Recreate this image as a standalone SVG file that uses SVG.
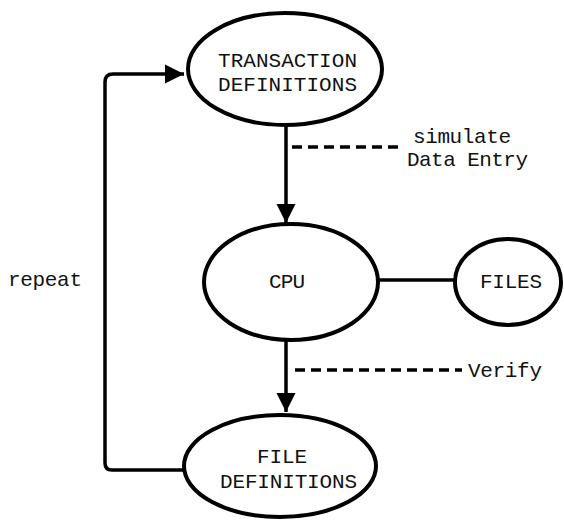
<svg xmlns="http://www.w3.org/2000/svg" width="564" height="520" viewBox="0 0 564 520">
<style>
.node{fill:none;stroke:#000;stroke-width:4}
.lbl{font-family:"Liberation Mono","DejaVu Sans Mono",monospace;font-size:21px;fill:#111}
.c{stroke:#000;stroke-width:3.5;fill:none;stroke-linejoin:round}
.d{stroke:#000;stroke-width:3.5;fill:none;stroke-dasharray:10 6}
</style>
<defs>
<marker id="ah" viewBox="0 0 10 10" refX="10" refY="5" markerWidth="5.5" markerHeight="6" markerUnits="strokeWidth" orient="auto">
<path d="M0,0 L10,5 L0,10 Z" fill="#000"/>
</marker>
</defs>
<rect width="564" height="520" fill="#fff"/>
<g id="connectors">
<path class="c" d="M184,470 L112,470 Q105,470 105,463 L105,82 Q105,74 113,74 L184,74" marker-end="url(#ah)"/>
<path class="c" d="M286,125 L286,223" marker-end="url(#ah)"/>
<path class="c" d="M286,340 L286,412" marker-end="url(#ah)"/>
<path class="c" d="M378,280 L455,280"/>
<path class="d" d="M292,147 L400,147"/>
<path class="d" d="M295,370 L462,370"/>
<text class="lbl" x="413" y="143" textLength="98">simulate</text>
<text class="lbl" x="407" y="166" textLength="121">Data Entry</text>
<text class="lbl" x="468" y="377" textLength="74">Verify</text>
<text class="lbl" x="8" y="286" textLength="74">repeat</text>
</g>
<g id="transaction">
<ellipse class="node" cx="285" cy="69" rx="97" ry="56"/>
<text class="lbl" x="218" y="67" textLength="139">TRANSACTION</text>
<text class="lbl" x="218" y="91" textLength="139">DEFINITIONS</text>
</g>
<g id="cpu">
<ellipse class="node" cx="291" cy="282" rx="87" ry="58"/>
<text class="lbl" x="269" y="288" textLength="36">CPU</text>
</g>
<g id="files">
<ellipse class="node" cx="508" cy="282" rx="53" ry="43"/>
<text class="lbl" x="480" y="288" textLength="62">FILES</text>
</g>
<g id="filedefs">
<ellipse class="node" cx="280" cy="466" rx="96" ry="51"/>
<text class="lbl" x="257" y="463" textLength="50">FILE</text>
<text class="lbl" x="220" y="488" textLength="137">DEFINITIONS</text>
</g>
</svg>
